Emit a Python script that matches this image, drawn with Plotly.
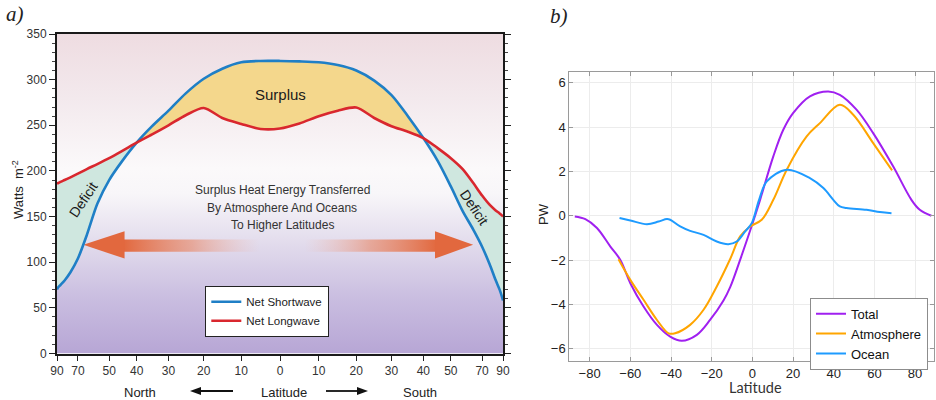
import numpy as np
import plotly.graph_objects as go

# ---------------- Panel a) data (latitude, north positive) ----------------
LAT = [90, 85, 80, 75, 70, 65, 60, 55, 50, 45, 40, 35, 30, 25, 20, 15, 10, 5, 0,
       -5, -10, -15, -20, -25, -30, -35, -40, -45, -50, -55, -60, -65, -70, -75, -80, -85, -90]
NET_SW = [70, 72, 75, 80, 89, 104, 130, 164, 190, 211, 231, 249, 266, 285, 301, 312, 319, 320.5, 320.5,
          320, 319, 316, 310, 299, 283, 260, 236, 211, 183, 156, 136, 117, 98, 81, 70, 61.5, 58]
NET_LW = [186, 186.5, 188, 190, 193, 197, 202, 207.5, 214, 222, 231, 240, 250, 261, 269, 258, 251.5, 246, 246.5,
          252, 260, 266, 269.5, 258, 249, 243, 236, 225, 214, 202, 187, 173, 163, 157, 153.5, 151, 150]
XTICK_LAT = [90, 70, 50, 40, 30, 20, 10, 0, -10, -20, -30, -40, -50, -70, -90]
YTICKS_A = [0, 50, 100, 150, 200, 250, 300, 350]

# ---------------- Panel b) data ----------------
TOTAL_LAT = [-87.3, -82.1, -76.4, -69.8, -64.9, -60, -53.5, -46.9, -40.4, -34.7, -27.3, -20.8,
             -14.2, -10.9, -5.5, -0.3, 3.8, 10.3, 15.2, 20.1, 28.3, 37.3, 43, 51.2, 59.4, 69.2,
             78.2, 82.3, 88]
TOTAL = [-0.03, -0.15, -0.55, -1.39, -1.99, -3.04, -4.09, -4.92, -5.45, -5.64, -5.37, -4.70,
         -3.82, -3.22, -1.85, -0.45, 0.72, 2.68, 3.88, 4.64, 5.39, 5.61, 5.46, 4.79, 3.73, 2.23,
         0.72, 0.27, 0.0]
ATM_LAT = [-65.8, -60, -53.5, -46.9, -41.2, -38, -30.6, -24, -17.5, -10.9, -6, -1.1, 4.6, 10.3,
           16.9, 26.7, 33.2, 43, 49.6, 59.4, 68.7]
ATM = [-1.96, -2.89, -3.79, -4.70, -5.30, -5.30, -4.92, -4.24, -3.19, -1.95, -0.93, -0.48, -0.18,
       0.72, 2.08, 3.58, 4.18, 5.01, 4.56, 3.28, 2.05]
OCN_LAT = [-65.3, -60, -51.8, -46.1, -42, -40.4, -35.5, -30.6, -24, -17.5, -11.8, -7.7, -3.6,
           -0.3, 3.3, 7.1, 16.9, 28.3, 34.9, 39.8, 43, 46.3, 56.1, 62.7, 68.4]
OCN = [-0.10, -0.21, -0.38, -0.26, -0.15, -0.18, -0.48, -0.68, -0.86, -1.16, -1.28, -1.16, -0.71,
       -0.33, 0.72, 1.55, 2.08, 1.70, 1.25, 0.72, 0.42, 0.35, 0.27, 0.17, 0.12]
XTICKS_B = [-80, -60, -40, -20, 0, 20, 40, 60, 80]
YTICKS_B = [-6, -4, -2, 0, 2, 4, 6]

W, H = 936, 400
FONT = "Liberation Sans, Arial, sans-serif"

def sinx(lat):
    # area-weighted latitude axis: north on the left
    return -np.sin(np.radians(np.asarray(lat, dtype=float)))

lat = np.array(LAT, dtype=float)
xa = sinx(lat)
sw = np.array(NET_SW, dtype=float)
lw = np.array(NET_LW, dtype=float)

fig = go.Figure()

# background gradient of panel a
fig.add_trace(go.Scatter(
    x=[-1, 1, 1, -1, -1], y=[0, 0, 350, 350, 0], fill="toself", mode="none",
    fillgradient=dict(type="vertical", colorscale=[
        [0.0, "#b7a6d5"], [0.17, "#c9bde0"], [0.33, "#e0d9eb"], [0.5, "#f8f6f9"],
        [0.58, "#fbf9fa"], [0.8, "#f3e9ed"], [1.0, "#eedce1"]]),
    hoverinfo="skip", showlegend=False, xaxis="x", yaxis="y"))

# fills between curves
segments = [
    (lat >= 40, "#cfe7df"),
    ((lat <= 40) & (lat >= -40), "#f4d78c"),
    (lat <= -40, "#cfe7df"),
]
for mask, col in segments:
    fig.add_trace(go.Scatter(x=xa[mask], y=lw[mask], mode="lines",
                             line=dict(width=0, shape="spline", smoothing=0.8, color=col),
                             hoverinfo="skip", showlegend=False, xaxis="x", yaxis="y"))
    fig.add_trace(go.Scatter(x=xa[mask], y=sw[mask], mode="lines", fill="tonexty",
                             fillcolor=col, line=dict(width=0, shape="spline", smoothing=0.8, color=col),
                             hoverinfo="skip", showlegend=False, xaxis="x", yaxis="y"))

# arrows (decorative)
ORANGE = "rgba(226,105,63,1)"
fig.add_trace(go.Scatter(
    x=[-0.70, -0.09, -0.09, -0.70, -0.70], y=[111.5, 111.5, 125, 125, 111.5],
    fill="toself", mode="none",
    fillgradient=dict(type="horizontal", colorscale=[
        [0, ORANGE], [0.5, "rgba(232,140,110,0.65)"], [1, "rgba(240,180,165,0)"]]),
    hoverinfo="skip", showlegend=False, xaxis="x", yaxis="y"))
fig.add_trace(go.Scatter(
    x=[0.11, 0.70, 0.70, 0.11, 0.11], y=[111.5, 111.5, 125, 125, 111.5],
    fill="toself", mode="none",
    fillgradient=dict(type="horizontal", colorscale=[
        [0, "rgba(240,180,165,0)"], [0.5, "rgba(232,140,110,0.65)"], [1, ORANGE]]),
    hoverinfo="skip", showlegend=False, xaxis="x", yaxis="y"))
fig.add_trace(go.Scatter(
    x=[-0.882, -0.697, -0.697, -0.882], y=[119, 134, 104, 119], fill="toself",
    mode="none", fillcolor="#e2683e", hoverinfo="skip", showlegend=False, xaxis="x", yaxis="y"))
fig.add_trace(go.Scatter(
    x=[0.866, 0.695, 0.695, 0.866], y=[119, 134, 104, 119], fill="toself",
    mode="none", fillcolor="#e2683e", hoverinfo="skip", showlegend=False, xaxis="x", yaxis="y"))

# curves of panel a
fig.add_trace(go.Scatter(x=xa, y=sw, mode="lines", name="Net Shortwave",
                         line=dict(color="#1f7fc6", width=2.6, shape="spline", smoothing=0.8),
                         legend="legend", legendgroup="sw", xaxis="x", yaxis="y"))
fig.add_trace(go.Scatter(x=xa, y=lw, mode="lines", name="Net Longwave",
                         line=dict(color="#d9272e", width=2.6, shape="spline", smoothing=0.8),
                         legend="legend", legendgroup="lw", xaxis="x", yaxis="y"))

# panel b curves
fig.add_trace(go.Scatter(x=TOTAL_LAT, y=TOTAL, mode="lines", name="Total",
                         line=dict(color="#a020f0", width=2, shape="spline"),
                         legend="legend2", xaxis="x2", yaxis="y2"))
fig.add_trace(go.Scatter(x=ATM_LAT, y=ATM, mode="lines", name="Atmosphere",
                         line=dict(color="#ffa500", width=2, shape="spline"),
                         legend="legend2", xaxis="x2", yaxis="y2"))
fig.add_trace(go.Scatter(x=OCN_LAT, y=OCN, mode="lines", name="Ocean",
                         line=dict(color="#1e9bff", width=2, shape="spline"),
                         legend="legend2", xaxis="x2", yaxis="y2"))

# tick positions of panel a (70 label shifted slightly inward as in the figure)
xt_pos = []
for t in XTICK_LAT:
    p = float(sinx(t))
    if abs(t) == 70:
        p = float(np.sign(p) * np.sin(np.radians(65)))
    xt_pos.append(p)
xt_txt = [str(abs(t)) for t in XTICK_LAT]

def px(x):
    return x / W

def py(y):
    return 1 - y / H

fig.update_layout(
    width=W, height=H, margin=dict(l=0, r=0, t=0, b=0),
    paper_bgcolor="white", plot_bgcolor="rgba(0,0,0,0)",
    font=dict(family=FONT, color="#222"),
    xaxis=dict(domain=[px(57), px(503)], range=[-1, 1], tickvals=xt_pos, ticktext=xt_txt,
               ticks="outside", ticklen=5, tickwidth=1.3, tickcolor="#222",
               showline=True, linewidth=2, linecolor="#1a1a1a", mirror=True,
               showgrid=False, zeroline=False, tickfont=dict(size=12, color="#333"),
               anchor="y", automargin=False),
    yaxis=dict(domain=[py(353.5), py(34)], range=[0, 350], tickvals=YTICKS_A,
               ticks="outside", ticklen=6, tickwidth=1.3, tickcolor="#222",
               minor=dict(dtick=10, ticks="outside", ticklen=3, tickcolor="#444"),
               showline=True, linewidth=2, linecolor="#1a1a1a", mirror="allticks",
               showgrid=False, zeroline=False, tickfont=dict(size=12, color="#333"),
               anchor="x", automargin=False),
    xaxis2=dict(domain=[px(569.3), px(934)], range=[-90, 89.3], tickvals=XTICKS_B,
                ticks="inside", ticklen=4, tickcolor="#999", showline=True, linewidth=1,
                linecolor="#9a9a9a", mirror="allticks", showgrid=True, gridcolor="#ececec",
                zeroline=False, tickfont=dict(size=13, color="#222"), anchor="y2",
                automargin=False),
    yaxis2=dict(domain=[py(361), py(71.7)], range=[-6.55, 6.5], tickvals=YTICKS_B,
                ticks="inside", ticklen=4, tickcolor="#999", showline=True, linewidth=1,
                linecolor="#9a9a9a", mirror="allticks", showgrid=True, gridcolor="#ececec",
                zeroline=False, tickfont=dict(size=13, color="#222"), anchor="x2",
                automargin=False),
    legend=dict(x=px(205), y=py(286), xanchor="left", yanchor="top", bgcolor="white",
                bordercolor="#222", borderwidth=1.3, font=dict(size=11.5, color="#222"),
                tracegroupgap=4, traceorder="normal", entrywidth=100,
                entrywidthmode="pixels"),
    legend2=dict(x=px(928), y=py(297.7), xanchor="right", yanchor="top", bgcolor="white",
                 bordercolor="#8c8c8c", borderwidth=1, font=dict(size=13, color="#111"),
                 tracegroupgap=0),
)

ann = []
def add_text(text, x, y, size, xref="paper", yref="paper", angle=0, color="#222",
             family=FONT, italic=False):
    ann.append(dict(text=text, x=x, y=y, xref=xref, yref=yref, showarrow=False,
                    textangle=angle, xanchor="center", yanchor="middle",
                    font=dict(size=size, color=color, family=family,
                              style="italic" if italic else "normal")))

# panel labels
add_text("a)", px(15), py(14), 21, family="Liberation Serif, serif", italic=True)
add_text("b)", px(559), py(16), 21, family="Liberation Serif, serif", italic=True)

# panel a texts
add_text("Surplus", 0, 284, 15, xref="x", yref="y", color="#1a1a1a")
add_text("Surplus Heat Energy Transferred", px(282), py(190), 12, color="#333")
add_text("By Atmosphere And Oceans", px(282), py(207.5), 12, color="#333")
add_text("To Higher Latitudes", px(282), py(225), 12, color="#333")
add_text("Deficit", px(83), py(200), 14, angle=-56, color="#1a1a1a")
add_text("Deficit", px(474), py(207), 14, angle=56, color="#1a1a1a")
add_text("Watts  m<sup>-2</sup>", px(18), py(190), 13, angle=-90, color="#222")
add_text("North", px(140), py(392), 13, color="#222")
add_text("Latitude", px(284), py(392), 13, color="#222")
add_text("South", px(420), py(392), 13, color="#222")

# panel b axis titles
add_text("PW", px(543), py(214), 13, angle=-90, color="#222")
add_text("Latitude", px(755), py(387), 14.5, color="#333", family="Lato, sans-serif")

# direction arrows under panel a (shapes in paper coordinates)
shapes = []
def arrow(x_from, x_to, y):
    d = 1 if x_to > x_from else -1
    head = 11
    shapes.append(dict(type="line", xref="paper", yref="paper",
                       x0=px(x_from), x1=px(x_to - d * head + d), y0=py(y), y1=py(y),
                       line=dict(color="#111", width=1.8)))
    path = "M {:.5f} {:.5f} L {:.5f} {:.5f} L {:.5f} {:.5f} Z".format(
        px(x_to), py(y), px(x_to - d * head), py(y - 4), px(x_to - d * head), py(y + 4))
    shapes.append(dict(type="path", xref="paper", yref="paper", path=path,
                       fillcolor="#111", line=dict(width=0)))

arrow(233, 190, 391)
arrow(326, 368, 391)

fig.update_layout(annotations=ann, shapes=shapes)
fig.write_html("out.html",
               post_script="document.body.style.margin='0px';document.body.style.overflow='hidden';")
